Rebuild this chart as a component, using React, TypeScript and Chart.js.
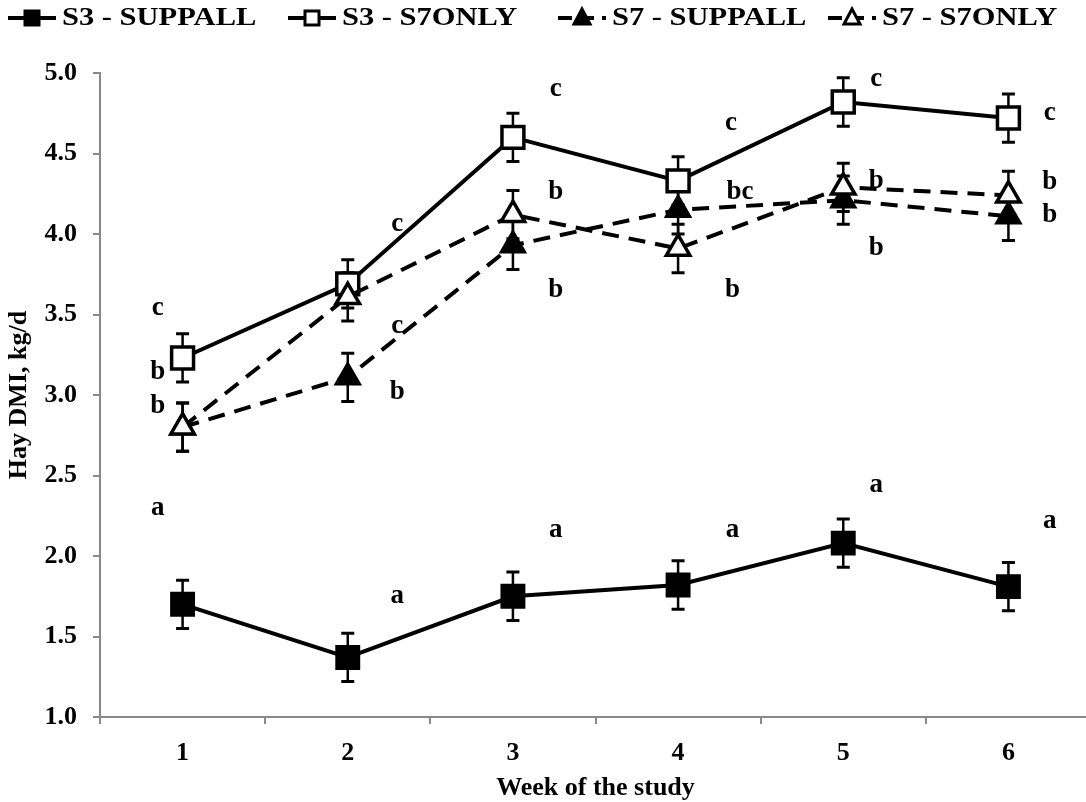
import React, { useEffect, useRef } from "react";
import { Chart, registerables } from "chart.js";

Chart.register(...registerables);

// ---------- data ----------
const weeks = ["1", "2", "3", "4", "5", "6"];
const seriesNames = ["S3 - SUPPALL", "S3 - S7ONLY", "S7 - SUPPALL", "S7 - S7ONLY"];

const s3Suppall = [1.70, 1.37, 1.75, 1.82, 2.08, 1.81];
const s3S7only = [3.23, 3.69, 4.60, 4.33, 4.82, 4.72];
const s7Suppall = [2.80, 3.11, 3.93, 4.15, 4.21, 4.11];
const s7S7only = [2.80, 3.61, 4.12, 3.91, 4.29, 4.24];

const s3SuppallSE = [0.15, 0.15, 0.15, 0.15, 0.15, 0.15];
const s3S7onlySE = [0.15, 0.15, 0.15, 0.15, 0.15, 0.15];
const s7SuppallSE = [0.15, 0.15, 0.15, 0.15, 0.15, 0.15];
const s7S7onlySE = [0.15, 0.15, 0.15, 0.15, 0.15, 0.15];

// significance letters (week index, value level, text, shift in weeks)
const letterWeek = [0, 0, 0, 0, 1, 1, 1, 1, 2, 2, 2, 2, 3, 3, 3, 3, 4, 4, 4, 4, 5, 5, 5, 5];
const letterText = ["c", "b", "b", "a", "c", "c", "b", "a", "c", "b", "b", "a", "c", "bc", "b", "a", "c", "b", "b", "a", "c", "b", "b", "a"];
const letterValue = [3.54, 3.14, 2.93, 2.30, 4.06, 3.43, 3.02, 1.75, 4.90, 4.26, 3.65, 2.16, 4.69, 4.26, 3.65, 2.16, 4.96, 4.33, 3.91, 2.44, 4.75, 4.32, 4.12, 2.22];
const letterShift = [-0.15, -0.15, -0.15, -0.15, 0.30, 0.30, 0.30, 0.30, 0.26, 0.26, 0.26, 0.26, 0.32, 0.375, 0.33, 0.33, 0.20, 0.20, 0.20, 0.20, 0.25, 0.25, 0.25, 0.25];

const yMin = 1.0;
const yMax = 5.0;
const yStep = 0.5;

const xTitle = "Week of the study";
const yTitle = "Hay DMI, kg/d";

// ---------- styles ----------
const FONT = "'Liberation Serif', 'Times New Roman', serif";
const AXIS = "#898989";
const seValues = [s3SuppallSE, s3S7onlySE, s7SuppallSE, s7S7onlySE];
const dashed = [false, false, true, true];
const filled = [true, false, true, false];
const styles = ["rect", "rect", "triangle", "triangle"];

const errorBarPlugin = {
  id: "errorBars",
  beforeDatasetsDraw(chart: any) {
    const ctx = chart.ctx;
    const y = chart.scales.y;
    ctx.save();
    ctx.strokeStyle = "#000";
    ctx.setLineDash([]);
    chart.data.datasets.forEach((ds: any, i: number) => {
      const meta = chart.getDatasetMeta(i);
      meta.data.forEach((pt: any, j: number) => {
        const v = ds.data[j];
        const se = seValues[i][j];
        const yt = y.getPixelForValue(v + se);
        const yb = y.getPixelForValue(v - se);
        ctx.lineWidth = 2.5;
        ctx.beginPath();
        ctx.moveTo(pt.x, yt);
        ctx.lineTo(pt.x, yb);
        ctx.stroke();
        ctx.lineWidth = 3;
        ctx.beginPath();
        ctx.moveTo(pt.x - 6.5, yt);
        ctx.lineTo(pt.x + 6.5, yt);
        ctx.moveTo(pt.x - 6.5, yb);
        ctx.lineTo(pt.x + 6.5, yb);
        ctx.stroke();
      });
    });
    ctx.restore();
  },
};

const lettersPlugin = {
  id: "letters",
  afterDatasetsDraw(chart: any) {
    const ctx = chart.ctx;
    const x = chart.scales.x;
    const y = chart.scales.y;
    const step = x.getPixelForValue(1) - x.getPixelForValue(0);
    ctx.save();
    ctx.fillStyle = "#000";
    ctx.font = `bold 27px ${FONT}`;
    ctx.textAlign = "center";
    ctx.textBaseline = "middle";
    letterText.forEach((t, k) => {
      const px = x.getPixelForValue(letterWeek[k]) + letterShift[k] * step;
      const py = y.getPixelForValue(letterValue[k]);
      ctx.fillText(t, px, py);
    });
    ctx.restore();
  },
};

function drawMarker(ctx: any, kind: string, fill: boolean, cx: number, cy: number) {
  ctx.save();
  ctx.setLineDash([]);
  ctx.fillStyle = fill ? "#000" : "#fff";
  ctx.strokeStyle = "#000";
  ctx.lineWidth = 3;
  ctx.beginPath();
  if (kind === "rect") {
    ctx.rect(cx - 7, cy - 7, 14, 14);
  } else {
    ctx.moveTo(cx, cy - 9);
    ctx.lineTo(cx + 8, cy + 6);
    ctx.lineTo(cx - 8, cy + 6);
    ctx.closePath();
  }
  ctx.fill();
  ctx.stroke();
  ctx.restore();
}

const legendPlugin = {
  id: "customLegend",
  afterDraw(chart: any) {
    const ctx = chart.ctx;
    const starts = [8, 288, 558, 828];
    const cy = 18;
    ctx.save();
    seriesNames.forEach((name, i) => {
      const sx = starts[i];
      ctx.strokeStyle = "#000";
      ctx.lineWidth = 4;
      ctx.setLineDash(dashed[i] ? [14, 8] : []);
      ctx.beginPath();
      ctx.moveTo(sx, cy);
      ctx.lineTo(sx + 48, cy);
      ctx.stroke();
      drawMarker(ctx, styles[i], filled[i], sx + 24, cy);
      ctx.fillStyle = "#000";
      ctx.font = `bold 25px ${FONT}`;
      ctx.textAlign = "left";
      ctx.textBaseline = "middle";
      ctx.save();
      ctx.translate(sx + 54, cy + 1);
      ctx.scale(1.22, 1);
      ctx.fillText(name, 0, 0);
      ctx.restore();
    });
    ctx.restore();
  },
};

export default function App() {
  const ref = useRef<HTMLCanvasElement | null>(null);

  useEffect(() => {
    if (!ref.current) return;
    const values = [s3Suppall, s3S7only, s7Suppall, s7S7only];
    const chart = new Chart(ref.current, {
      type: "line",
      data: {
        labels: weeks,
        datasets: seriesNames.map((name, i) => ({
          label: name,
          data: values[i],
          borderColor: "#000",
          borderWidth: 4,
          borderDash: dashed[i] ? [17, 10] : [],
          tension: 0,
          fill: false,
          pointStyle: styles[i] as any,
          pointRadius: styles[i] === "rect" ? 15.5 : 13.5,
          pointBackgroundColor: filled[i] ? "#000" : "#fff",
          pointBorderColor: "#000",
          pointBorderWidth: filled[i] ? 3 : 3.5,
          order: 3 - i,
        })),
      },
      options: {
        animation: false,
        responsive: false,
        devicePixelRatio: 1,
        layout: { padding: { top: 73, right: 16, left: 0, bottom: 0 } },
        plugins: {
          legend: { display: false },
          tooltip: { enabled: false },
        },
        scales: {
          x: {
            offset: true,
            grid: { offset: true, drawOnChartArea: false, tickLength: 7, color: AXIS, lineWidth: 2 },
            border: { color: AXIS, width: 2 },
            ticks: { color: "#000", font: { family: FONT, size: 26, weight: "bold" }, padding: 14 },
            title: {
              display: true,
              text: xTitle,
              color: "#000",
              font: { family: FONT, size: 26, weight: "bold" },
              padding: { top: 0, bottom: -2 },
            },
            afterFit: (s: any) => {
              s.height = 85;
            },
          },
          y: {
            min: yMin,
            max: yMax,
            grid: { drawOnChartArea: false, tickLength: 7, color: AXIS, lineWidth: 2 },
            border: { color: AXIS, width: 2 },
            ticks: {
              stepSize: yStep,
              color: "#000",
              font: { family: FONT, size: 26, weight: "bold" },
              padding: 16,
              callback: (v: any) => Number(v).toFixed(1),
            },
            title: {
              display: true,
              text: yTitle,
              color: "#000",
              font: { family: FONT, size: 26, weight: "bold" },
              padding: { top: 4, bottom: 0 },
            },
            afterFit: (s: any) => {
              s.width = 100;
            },
          },
        },
      },
      plugins: [errorBarPlugin, lettersPlugin, legendPlugin],
    });
    return () => chart.destroy();
  }, []);

  return (
    <div style={{ position: "fixed", left: 0, top: 0, width: 1086, height: 802, overflow: "hidden", background: "#fff" }}>
      <canvas ref={ref} width={1110} height={802} style={{ width: 1110, height: 802, display: "block" }} />
    </div>
  );
}
